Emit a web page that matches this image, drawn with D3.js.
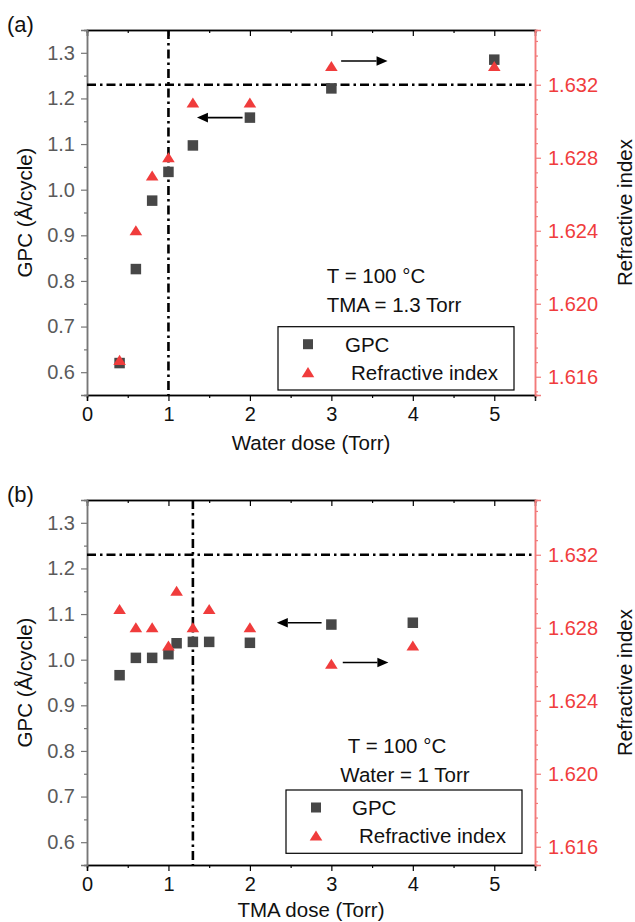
<!DOCTYPE html>
<html><head><meta charset="utf-8">
<script src="https://cdn.jsdelivr.net/npm/d3@7"></script>
<style>
html,body{margin:0;padding:0;background:#fff;}
svg{display:block;font-family:"Liberation Sans",Arial,sans-serif;}
</style></head>
<body>
<svg id="chart" width="635" height="922"></svg>
<script>
// ---- data ----
const waterDose = [0.4, 0.6, 0.8, 1.0, 1.3, 2, 3, 5];
const gpcA      = [0.620, 0.826, 0.976, 1.039, 1.097, 1.158, 1.222, 1.285];
const riA       = [1.6169, 1.624, 1.627, 1.628, 1.631, 1.631, 1.633, 1.633];

const tmaDose = [0.4, 0.6, 0.8, 1.0, 1.1, 1.3, 1.5, 2, 3, 4];
const gpcB    = [0.966, 1.004, 1.004, 1.012, 1.036, 1.039, 1.039, 1.037, 1.077, 1.081];
const riB     = [1.629, 1.628, 1.628, 1.627, 1.630, 1.628, 1.629, 1.628, 1.626, 1.627];

const xTicks   = [0, 1, 2, 3, 4, 5];
const xMinor   = [0.5, 1.5, 2.5, 3.5, 4.5];
const gpcTicks = [0.6, 0.7, 0.8, 0.9, 1.0, 1.1, 1.2, 1.3];
const gpcMinor = [0.55, 0.65, 0.75, 0.85, 0.95, 1.05, 1.15, 1.25, 1.35];
const riTicks  = [1.616, 1.620, 1.624, 1.628, 1.632];
const riMinor  = [1.6152, 1.6168, 1.6176, 1.6184, 1.6192, 1.6208, 1.6216, 1.6224, 1.6232,
                  1.6248, 1.6256, 1.6264, 1.6272, 1.6288, 1.6296, 1.6304, 1.6312,
                  1.6328, 1.6336, 1.6344];

const xDomain   = [0, 5.5];
const gpcDomain = [0.55, 1.35];
const riDomain  = [1.615, 1.635];

const panels = [
  { top: 30, label: "(a)", x: waterDose, gpc: gpcA, ri: riA, xTitle: "Water dose (Torr)", titleDy: 55,
    vline: 1.0, hlineRI: 1.632,
    arrows: [ {from: 1.91, to: 1.35, y: 1.158, axis: "gpc"},
              {from: 3.12, to: 3.69, y: 1.6333, axis: "ri"} ],
    notes: ["T = 100 \u00B0C", "TMA = 1.3 Torr"], noteX: [376, 394],
    legend: {x: 278, w: 236, y: 296.7, symX: 308, gpcTx: 345, riTx: 351} },
  { top: 500, label: "(b)", x: tmaDose, gpc: gpcB, ri: riB, xTitle: "TMA dose (Torr)", titleDy: 52,
    vline: 1.3, hlineRI: 1.632,
    arrows: [ {from: 2.88, to: 2.33, y: 1.081, axis: "gpc"},
              {from: 3.14, to: 3.70, y: 1.6261, axis: "ri"} ],
    notes: ["T = 100 \u00B0C", "Water = 1 Torr"], noteX: [397, 405],
    legend: {x: 286, w: 236, y: 290, symX: 316, gpcTx: 352, riTx: 359} }
];

const W = 635, left = 87, right = 535, plotH = 365;
const svg = d3.select("#chart");
const gray = "#474747", red = "#f03c3c", redAxis = "#f27a7a";

panels.forEach(p => {
  const g = svg.append("g").attr("transform", `translate(0,${p.top})`);
  const x = d3.scaleLinear().domain(xDomain).range([left, right]);
  const yG = d3.scaleLinear().domain(gpcDomain).range([plotH, 0]);
  const yR = d3.scaleLinear().domain(riDomain).range([plotH, 0]);

  // axes
  const bottom = g.append("g").attr("transform", `translate(0,${plotH})`)
    .call(d3.axisBottom(x).tickValues(xTicks).tickSize(6).tickPadding(6).tickFormat(d3.format("d")));
  g.append("g").attr("transform", `translate(0,${plotH})`)
    .call(d3.axisBottom(x).tickValues(xMinor).tickSize(3).tickFormat(""));
  bottom.selectAll("text").attr("font-size", 20).attr("fill", "#111").attr("font-family", "Liberation Sans, Arial");

  const topAx = g.append("g").call(d3.axisTop(x).tickValues(xTicks).tickSize(-6).tickFormat(""));
  g.append("g").call(d3.axisTop(x).tickValues(xMinor).tickSize(-3).tickFormat(""));

  const leftAx = g.append("g").attr("transform", `translate(${left},0)`)
    .call(d3.axisLeft(yG).tickValues(gpcTicks).tickSize(6).tickPadding(6).tickFormat(d3.format(".1f")));
  const leftMin = g.append("g").attr("transform", `translate(${left},0)`)
    .call(d3.axisLeft(yG).tickValues(gpcMinor).tickSize(3).tickFormat(""));
  leftAx.selectAll("text").attr("font-size", 20).attr("fill", "#5a5a5a").attr("font-family", "Liberation Sans, Arial");
  [leftAx, leftMin].forEach(a => { a.selectAll("line,path").attr("stroke", "#777"); });

  const rightAx = g.append("g").attr("transform", `translate(${right},0)`)
    .call(d3.axisRight(yR).tickValues(riTicks).tickSize(6).tickPadding(7).tickFormat(d3.format(".3f")));
  const rightMin = g.append("g").attr("transform", `translate(${right},0)`)
    .call(d3.axisRight(yR).tickValues(riMinor).tickSize(3).tickFormat(""));
  rightAx.selectAll("text").attr("font-size", 20).attr("fill", red).attr("font-family", "Liberation Sans, Arial");
  [rightAx, rightMin].forEach(a => { a.selectAll("line,path").attr("stroke", redAxis).attr("stroke-width", 1.5); });

  g.selectAll(".domain").attr("stroke-width", 1.5);
  [bottom, topAx].forEach(a => a.select(".domain").attr("stroke", "#222"));
  g.selectAll(".tick line").attr("stroke-width", 1.2);

  // reference dash-dot lines
  const dash = "9,4,2.5,4";
  g.append("line").attr("x1", x(p.vline)).attr("x2", x(p.vline)).attr("y1", 0).attr("y2", plotH)
    .attr("stroke", "#000").attr("stroke-width", 2.6).attr("stroke-dasharray", dash);
  g.append("line").attr("x1", left).attr("x2", right).attr("y1", yR(p.hlineRI)).attr("y2", yR(p.hlineRI))
    .attr("stroke", "#000").attr("stroke-width", 2.6).attr("stroke-dasharray", dash);

  // GPC squares
  const s = 10.5;
  g.append("g").selectAll("rect").data(p.x.map((d, i) => [d, p.gpc[i]])).join("rect")
    .attr("x", d => x(d[0]) - s / 2).attr("y", d => yG(d[1]) - s / 2)
    .attr("width", s).attr("height", s).attr("fill", gray);

  // RI triangles
  const tri = "M0,-5.6L6.3,4.6L-6.3,4.6Z";
  g.append("g").selectAll("path").data(p.x.map((d, i) => [d, p.ri[i]])).join("path")
    .attr("d", tri).attr("transform", d => `translate(${x(d[0])},${yR(d[1])})`).attr("fill", red);

  // arrows
  p.arrows.forEach(a => {
    const yy = a.axis === "gpc" ? yG(a.y) : yR(a.y);
    const x1 = x(a.from), x2 = x(a.to);
    const dir = Math.sign(x2 - x1), hl = 11, hw = 4.8;
    g.append("line").attr("x1", x1).attr("x2", x2 - dir * hl).attr("y1", yy).attr("y2", yy)
      .attr("stroke", "#000").attr("stroke-width", 1.6);
    g.append("path").attr("d", `M${x2},${yy}L${x2 - dir * hl},${yy - hw}L${x2 - dir * hl},${yy + hw}Z`)
      .attr("fill", "#000");
  });

  // notes
  g.append("text").attr("x", p.noteX[0]).attr("y", 252.7).attr("text-anchor", "middle")
    .attr("font-size", 20.5).attr("fill", "#111").text(p.notes[0]);
  g.append("text").attr("x", p.noteX[1]).attr("y", 281.7).attr("text-anchor", "middle")
    .attr("font-size", 20.5).attr("fill", "#111").text(p.notes[1]);

  // legend
  const L = p.legend;
  g.append("rect").attr("x", L.x).attr("y", L.y).attr("width", L.w).attr("height", 63.3)
    .attr("fill", "#fff").attr("stroke", "#000").attr("stroke-width", 1.2);
  g.append("rect").attr("x", L.symX - 5).attr("y", L.y + 17.5 - 5).attr("width", 10).attr("height", 10).attr("fill", gray);
  g.append("path").attr("d", tri).attr("transform", `translate(${L.symX},${L.y + 46})`).attr("fill", red);
  g.append("text").attr("x", L.gpcTx).attr("y", L.y + 25).attr("font-size", 20.5).attr("fill", "#111").text("GPC");
  g.append("text").attr("x", L.riTx).attr("y", L.y + 53.3).attr("font-size", 20.5).attr("fill", "#111").text("Refractive index");

  // titles
  g.append("text").attr("x", (left + right) / 2).attr("y", plotH + p.titleDy).attr("text-anchor", "middle")
    .attr("font-size", 20.5).attr("fill", "#111").text(p.xTitle);
  g.append("text").attr("transform", `translate(32,${plotH / 2}) rotate(-90)`).attr("text-anchor", "middle")
    .attr("font-size", 20.5).attr("fill", "#111").text("GPC (\u00C5/cycle)");
  g.append("text").attr("transform", `translate(632,${plotH / 2}) rotate(-90)`).attr("text-anchor", "middle")
    .attr("font-size", 20.5).attr("fill", "#111").text("Refractive index");
  g.append("text").attr("x", 7).attr("y", 1.5).attr("font-size", 22).attr("fill", "#111").text(p.label);
});
</script>
</body></html>
